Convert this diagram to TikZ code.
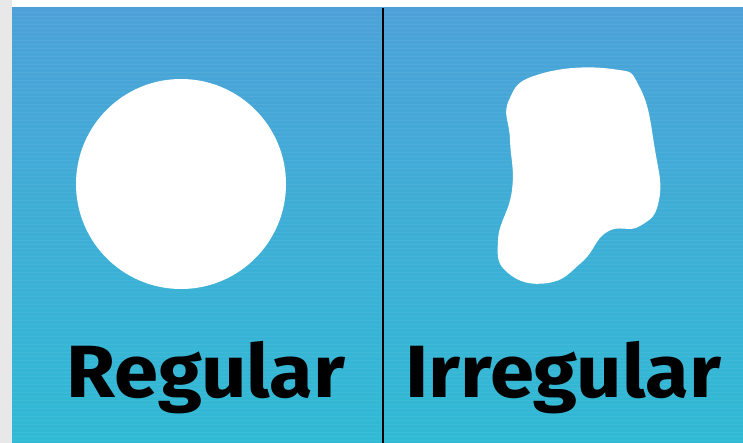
\documentclass[tikz,border=0pt]{standalone}
\usepackage{fontspec}
\setmainfont{Fira Sans}
\begin{document}
\begin{tikzpicture}[x=1pt,y=-1pt,
  lbl/.style={font=\fontsize{74}{74}\selectfont\bfseries, text=black, inner sep=0pt, anchor=base west, xscale=1.075}]
\useasboundingbox (0,0) rectangle (743,443);
\fill[white] (0,0) rectangle (743,443);
\fill[black!9] (0,0) rectangle (12,443);
\shade[top color={rgb,255:red,76;green,162;blue,216}, bottom color={rgb,255:red,48;green,186;blue,212}] (12,8) rectangle (743,443);
\foreach \yy in {12,16,...,440} {\draw[white, opacity=0.05, line width=0.8pt] (12,\yy) -- (743,\yy);}
\draw[black, line width=2pt] (383,8) -- (383,443);
\node[circle, fill=white, minimum size=210pt, inner sep=0pt] (reg) at (181,184) {};
\fill[white] plot[smooth cycle, tension=0.8] coordinates {
  (509,100) (540,74) (612,69) (640,88) (655,150) (659,200) (640,226)
  (607,232) (582,262) (548,283) (508,273) (498,240) (512,190) (510,140)};
\node[lbl] (t1) at (66,397) {Regular};
\node[lbl] (t2) at (405,397) {Irregular};
\end{tikzpicture}
\end{document}
